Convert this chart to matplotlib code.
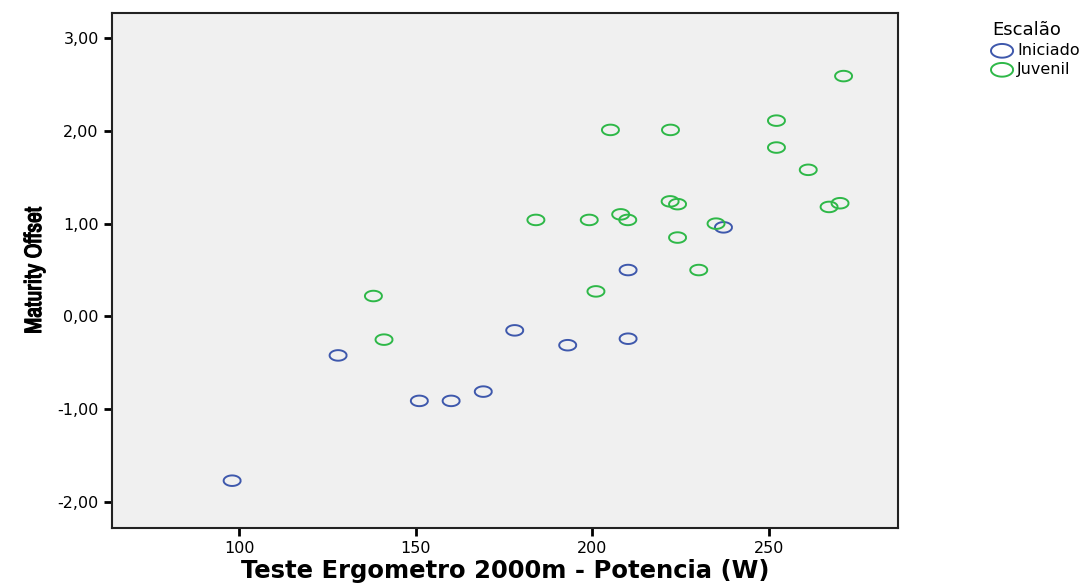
import numpy as np
import matplotlib.pyplot as plt
import matplotlib.patheffects as pe
from matplotlib import font_manager

# Escalão: Iniciado
ini_x = [98.0, 128.0, 151.0, 160.0, 169.1, 178.0, 193.0, 210.1, 210.1, 237.1]
ini_y = [-1.77, -0.42, -0.91, -0.91, -0.81, -0.15, -0.31, -0.24, 0.50, 0.96]

# Escalão: Juvenil
juv_x = [138.0, 141.0, 184.0, 199.1, 201.0, 205.1, 208.0, 210.0, 222.1, 222.0,
         224.1, 224.1, 230.1, 235.0, 252.1, 252.1, 261.1, 267.0, 270.1, 271.1]
juv_y = [0.22, -0.25, 1.04, 1.04, 0.27, 2.01, 1.10, 1.04, 2.01, 1.24,
         1.21, 0.85, 0.50, 1.00, 2.11, 1.82, 1.58, 1.18, 1.22, 2.59]

x_ticks = [100, 150, 200, 250]
y_ticks = [-2, -1, 0, 1, 2, 3]

# a condensed face for the y label if one is around
names = sorted({f.name for f in font_manager.fontManager.ttflist})
narrow = [n for n in names if 'Narrow' in n or 'Condensed' in n]
ylab_font = narrow[0] if narrow else 'Liberation Sans'

plt.rcParams['font.family'] = ['DejaVu Sans']

# flat ellipse marker, like the stretched SPSS circles
t = np.linspace(0, 2 * np.pi, 60)
ell = list(zip(np.cos(t), 0.62 * np.sin(t)))

fig = plt.figure(figsize=(10.92, 5.85), dpi=100)
ax = fig.add_axes([0.1026, 0.0974, 0.7194, 0.8804])
ax.set_facecolor('#f0f0f0')

ax.scatter(ini_x, ini_y, marker=ell, s=150, facecolors='none',
           edgecolors='#3e58ac', linewidths=1.4, label='Iniciado')
ax.scatter(juv_x, juv_y, marker=ell, s=150, facecolors='none',
           edgecolors='#2eb848', linewidths=1.4, label='Juvenil')

ax.set_xlim(64.0, 286.4)
ax.set_ylim(-2.28, 3.27)
ax.set_xticks(x_ticks)
ax.set_yticks(y_ticks)
ax.set_yticklabels([('%.2f' % v).replace('.', ',') for v in y_ticks])
ax.tick_params(axis='both', direction='out', length=6, width=2, labelsize=11.5,
               color='black')
for sp in ax.spines.values():
    sp.set_linewidth(1.5)
    sp.set_color('#222222')

ax.set_xlabel('Teste Ergometro 2000m - Potencia (W)', fontsize=17.5,
              fontweight='bold', labelpad=2)
yl = ax.set_ylabel('Maturity Offset', fontsize=17, fontweight='bold',
                   family=[ylab_font, 'DejaVu Sans'], labelpad=9)
# fake a heavier weight for the narrow face
yl.set_path_effects([pe.withStroke(linewidth=0.9, foreground='black')])

leg = ax.legend(loc='upper left', bbox_to_anchor=(0.903, 0.975),
                bbox_transform=fig.transFigure, frameon=False,
                title='Escalão', fontsize=11.5, title_fontsize=13,
                handletextpad=0.35, borderaxespad=0, labelspacing=0.25,
                handlelength=1.2, alignment='left', markerscale=1.3)

fig.savefig('out.png', dpi=100)
